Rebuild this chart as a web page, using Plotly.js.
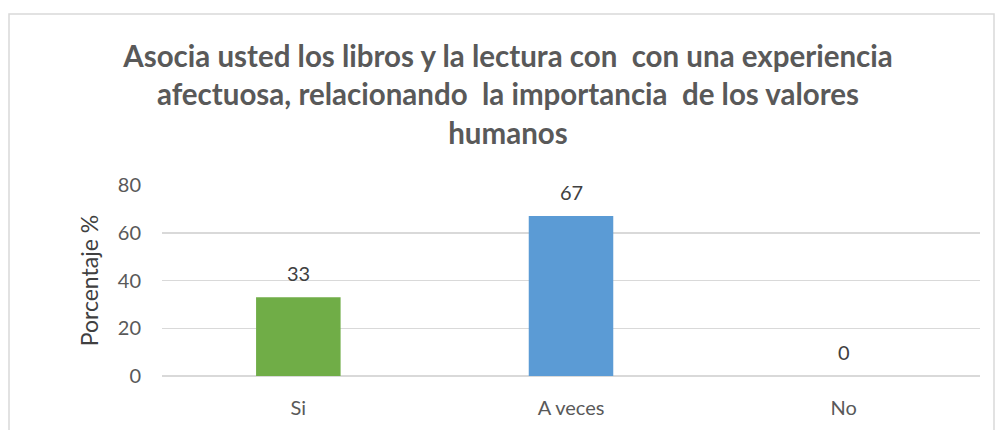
<!DOCTYPE html>
<html>
<head>
<meta charset="utf-8">
<script src="https://cdn.plot.ly/plotly-3.0.1.min.js"></script>
<style>html,body{margin:0;padding:0;background:#fff;}#chart{width:996px;height:430px;}</style>
</head>
<body>
<div id="chart"></div>
<script>
const categories = ["Si", "A veces", "No"];
const values = [33, 67, 0];
const barColors = ["#70ad47", "#5b9bd5", "#a5a5a5"];
const yTicks = [0, 20, 40, 60, 80];
const titleText = "Asocia usted los libros y la lectura con  con una experiencia<br>afectuosa, relacionando  la importancia  de los valores<br>humanos";

const L = 162, R = 16, T = 185, B = 54, W = 996, H = 430;
const pw = W - L - R, ph = H - T - B;
const px = v => (v - L) / pw;
const py = v => (H - B - v) / ph;

const data = [{
  type: "bar",
  x: categories,
  y: values,
  marker: {color: barColors},
  hoverinfo: "none"
}];

const layout = {
  width: W, height: H,
  margin: {l: L, r: R, t: T, b: B},
  paper_bgcolor: "#fff", plot_bgcolor: "#fff",
  bargap: 0.69,
  showlegend: false,
  font: {family: "Lato, 'Open Sans', sans-serif", color: "#595959", size: 20},
  title: {
    text: titleText,
    font: {family: "Lato, 'Open Sans', sans-serif", size: 29.5, color: "#595959", weight: "bold"},
    x: 508 / W, xanchor: "center",
    y: 1 - 67 / H, yanchor: "top", yref: "container"
  },
  xaxis: {
    showgrid: false, zeroline: false, showline: false,
    ticks: "", ticklabelstandoff: 18, tickfont: {size: 20, color: "#595959"},
    fixedrange: true
  },
  yaxis: {
    range: [0, 80],
    tickvals: yTicks,
    showgrid: true, gridcolor: "#d9d9d9", gridwidth: 1.5,
    zeroline: true, zerolinecolor: "#d9d9d9", zerolinewidth: 1.5,
    showline: false,
    ticks: "", ticklabelstandoff: 20, tickfont: {size: 20, color: "#595959"},
    title: {text: "Porcentaje %", font: {size: 23, color: "#404040"}, standoff: 12},
    fixedrange: true
  },
  annotations: categories.map((c, i) => ({
    x: c, y: values[i], xref: "x", yref: "y",
    text: String(values[i]), showarrow: false,
    yanchor: "bottom", yshift: 10,
    font: {size: 20, color: "#404040"}
  })),
  shapes: [{
    type: "rect", xref: "paper", yref: "paper",
    x0: px(9), x1: px(994), y0: py(431), y1: py(14),
    line: {color: "#d9d9d9", width: 1.5}, fillcolor: "rgba(0,0,0,0)", layer: "below"
  }]
};

Plotly.newPlot("chart", data, layout, {displayModeBar: false, staticPlot: true});
</script>
</body>
</html>
